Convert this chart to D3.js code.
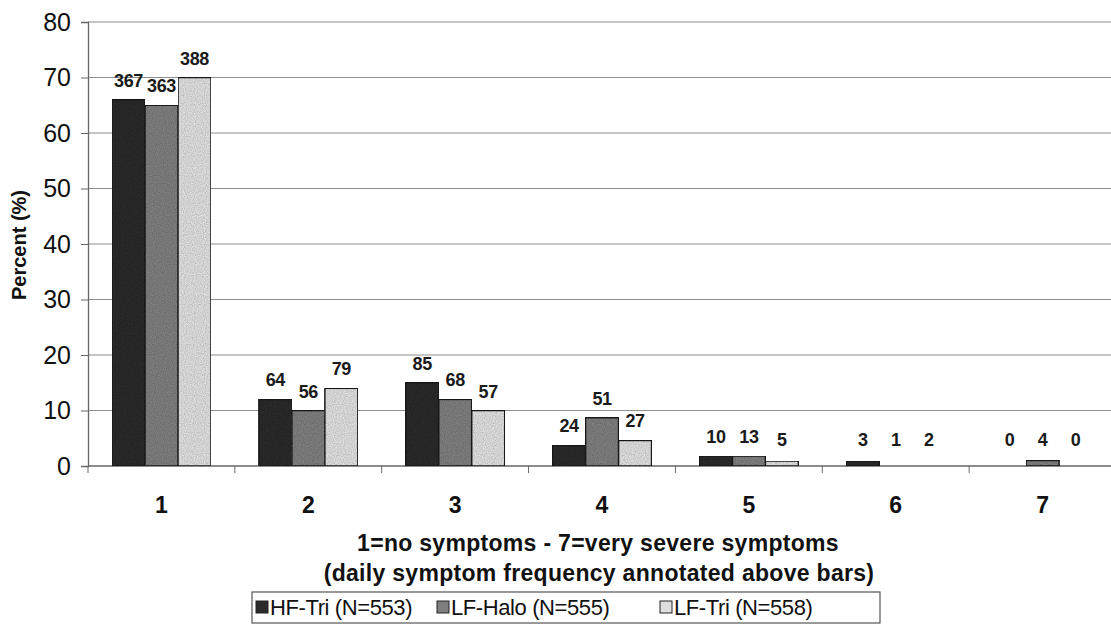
<!DOCTYPE html>
<html>
<head>
<meta charset="utf-8">
<script src="https://cdn.jsdelivr.net/npm/d3@7"></script>
<style>
  body { margin: 0; background: #fff; }
  svg { display: block; font-family: "Liberation Sans", Arial, sans-serif; }
</style>
</head>
<body>
<svg id="chart" width="1111" height="625"></svg>
<script>
// symptom score categories
var categories = ['1', '2', '3', '4', '5', '6', '7'];
var series = ['HF-Tri (N=553)', 'LF-Halo (N=555)', 'LF-Tri (N=558)'];
// percent per group
var hfTri = [66, 12, 15, 3.7, 1.8, 0.9, 0];
var lfHalo = [65, 10, 12, 8.7, 1.8, 0, 1.0];
var lfTri = [70, 14, 10, 4.6, 0.9, 0, 0];
// daily symptom frequency counts shown above bars
var hfTriN = [367, 64, 85, 24, 10, 3, 0];
var lfHaloN = [363, 56, 68, 51, 13, 1, 4];
var lfTriN = [388, 79, 57, 27, 5, 2, 0];
var yTicks = [0, 10, 20, 30, 40, 50, 60, 70, 80];

var values = [hfTri, lfHalo, lfTri];
var counts = [hfTriN, lfHaloN, lfTriN];
var fills = ['#2a2a2a', '#7e7e7e', '#dedede'];

var svg = d3.select('#chart');

var x0 = d3.scaleBand().domain(categories).range([88, 1116]).padding(0);
var x1 = d3.scaleBand().domain(series).range([24, 123]).padding(0);
var y = d3.scaleLinear().domain([0, 80]).range([466, 22]);

// speckle texture for bars
var defs = svg.append('defs');
var flt = defs.append('filter').attr('id', 'speckle')
  .attr('x', 0).attr('y', 0).attr('width', 1).attr('height', 1);
flt.append('feTurbulence').attr('type', 'fractalNoise')
  .attr('baseFrequency', 0.9).attr('numOctaves', 1).attr('seed', 3).attr('result', 'noise');
flt.append('feColorMatrix').attr('in', 'noise').attr('type', 'matrix')
  .attr('values', '0 0 0 0 0.5  0 0 0 0 0.5  0 0 0 0 0.5  1.4 0 0 0 -0.45')
  .attr('result', 'grain');
flt.append('feComposite').attr('in', 'grain').attr('in2', 'SourceGraphic')
  .attr('operator', 'in').attr('result', 'grainIn');
flt.append('feBlend').attr('in', 'grainIn').attr('in2', 'SourceGraphic').attr('mode', 'multiply');

// gridlines
svg.append('g')
  .selectAll('line')
  .data(yTicks.slice(1))
  .enter()
  .append('line')
  .attr('x1', 88).attr('x2', 1111)
  .attr('y1', function(d) { return y(d); })
  .attr('y2', function(d) { return y(d); })
  .attr('stroke', '#8e8e8e')
  .attr('stroke-width', 1.2);

// y axis
var yAxis = svg.append('g')
  .attr('transform', 'translate(88,0)')
  .call(d3.axisLeft(y).tickValues(yTicks).tickSize(7).tickPadding(10));
yAxis.attr('font-size', 25);
yAxis.select('.domain').attr('stroke', '#666').attr('stroke-width', 1.3);
yAxis.selectAll('.tick line').attr('stroke', '#666');
yAxis.selectAll('.tick text')
  .attr('font-size', 25)
  .attr('fill', '#111')
  .attr('font-family', '"Liberation Sans", Arial, sans-serif');

// x axis, ticks between categories
var xAxis = svg.append('g').attr('transform', 'translate(0,' + y(0) + ')');
xAxis.append('line')
  .attr('x1', 88).attr('x2', 1111)
  .attr('stroke', '#666').attr('stroke-width', 1.3);
xAxis.selectAll('line.tk')
  .data(categories)
  .enter()
  .append('line')
  .attr('class', 'tk')
  .attr('x1', function(d) { return x0(d); })
  .attr('x2', function(d) { return x0(d); })
  .attr('y1', 0).attr('y2', 7)
  .attr('stroke', '#666');
xAxis.selectAll('text')
  .data(categories)
  .enter()
  .append('text')
  .attr('x', function(d) { return x0(d) + x0.bandwidth() / 2; })
  .attr('y', 47)
  .attr('text-anchor', 'middle')
  .attr('font-size', 23)
  .attr('font-weight', 'bold')
  .attr('fill', '#111')
  .text(function(d) { return d; });

// bars
var rows = [];
categories.forEach(function(c, i) {
  series.forEach(function(s, j) {
    rows.push({ cat: c, ser: s, idx: j, v: values[j][i], n: counts[j][i] });
  });
});

var groups = svg.append('g');
groups.selectAll('rect')
  .data(rows.filter(function(d) { return d.v > 0; }))
  .enter()
  .append('rect')
  .attr('x', function(d) { return x0(d.cat) + x1(d.ser); })
  .attr('y', function(d) { return y(d.v); })
  .attr('width', x1.bandwidth())
  .attr('height', function(d) { return y(0) - y(d.v); })
  .attr('fill', function(d) { return fills[d.idx]; })
  .attr('filter', 'url(#speckle)')
  .attr('stroke', '#1a1a1a')
  .attr('stroke-width', 1.5);

// count labels
groups.selectAll('text')
  .data(rows)
  .enter()
  .append('text')
  .attr('x', function(d) { return x0(d.cat) + x1(d.ser) + x1.bandwidth() / 2; })
  .attr('y', function(d) { return Math.min(y(d.v) - 13, y(0) - 20); })
  .attr('text-anchor', 'middle')
  .attr('font-size', 18)
  .attr('font-weight', 'bold')
  .attr('fill', '#1a1a1a')
  .attr('letter-spacing', -0.4)
  .text(function(d) { return d.n; });

// y title
svg.append('text')
  .attr('transform', 'translate(26,245) rotate(-90)')
  .attr('text-anchor', 'middle')
  .attr('font-size', 20)
  .attr('font-weight', 'bold')
  .attr('fill', '#111')
  .text('Percent (%)');

// x title
svg.append('text')
  .attr('x', 598).attr('y', 551)
  .attr('text-anchor', 'middle')
  .attr('font-size', 23)
  .attr('font-weight', 'bold')
  .attr('fill', '#111')
  .attr('letter-spacing', 0.3)
  .text('1=no symptoms - 7=very severe symptoms');
svg.append('text')
  .attr('x', 599).attr('y', 581)
  .attr('text-anchor', 'middle')
  .attr('font-size', 23)
  .attr('font-weight', 'bold')
  .attr('fill', '#111')
  .attr('letter-spacing', 0.3)
  .text('(daily symptom frequency annotated above bars)');

// legend
var legend = svg.append('g').attr('transform', 'translate(252,592)');
legend.append('rect')
  .attr('width', 628).attr('height', 31)
  .attr('fill', '#fff')
  .attr('stroke', '#555').attr('stroke-width', 1.2);
var legX = [4, 185, 408];
var item = legend.selectAll('g.item')
  .data(series)
  .enter()
  .append('g')
  .attr('class', 'item')
  .attr('transform', function(d, i) { return 'translate(' + legX[i] + ',0)'; });
item.append('rect')
  .attr('x', 0).attr('y', 9)
  .attr('width', 12).attr('height', 12)
  .attr('fill', function(d, i) { return fills[i]; })
  .attr('stroke', '#222');
item.append('text')
  .attr('x', 14).attr('y', 23)
  .attr('font-size', 22)
  .attr('fill', '#111')
  .attr('letter-spacing', -0.4)
  .text(function(d) { return d; });
</script>
</body>
</html>
